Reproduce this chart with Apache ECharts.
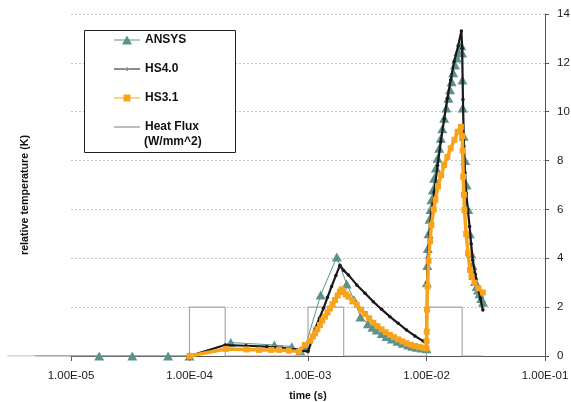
<!DOCTYPE html>
<html><head><meta charset="utf-8">
<script src="https://cdn.jsdelivr.net/npm/echarts/dist/echarts.min.js"></script>
<style>html,body{margin:0;padding:0;background:#fff}#c{width:571px;height:402px}</style>
</head><body><div id="c"></div>
<script>
const xTickLabels = ['1.00E-05','1.00E-04','1.00E-03','1.00E-02','1.00E-01'];
const seriesNames = ['ANSYS','HS4.0','HS3.1','Heat Flux (W/mm^2)'];

// time (s), relative temperature (K)
const ansys = [
  [5e-6,0],[1.73e-5,0],[3.29e-5,0],[6.6e-5,0],[1e-4,0],
  [2.23e-4,0.55],[5.2e-4,0.45],[7.3e-4,0.38],[8.6e-4,0.22],[9.5e-4,0.4],
  [1.28e-3,2.5],[1.75e-3,4.05],[2.12e-3,2.95],[2.45e-3,2.3],[2.77e-3,1.6],
  [3.2e-3,1.32],[3.5e-3,1.18],[3.8e-3,1.06],[4.2e-3,0.92],[4.6e-3,0.8],[5.1e-3,0.7],[5.7e-3,0.6],
  [6.3e-3,0.52],[7.0e-3,0.45],[7.6e-3,0.4],[8.3e-3,0.36],[9.1e-3,0.33],[1e-2,0.3],
  [1.006e-2,3.0],[1.015e-2,3.7],[1.025e-2,4.4],[1.04e-2,5.0],[1.06e-2,5.6],[1.08e-2,6.0],[1.1e-2,6.4],
  [1.13e-2,6.8],[1.16e-2,7.28],[1.2e-2,7.7],[1.24e-2,8.09],[1.28e-2,8.5],[1.32e-2,8.91],[1.36e-2,9.3],
  [1.41e-2,9.73],[1.47e-2,10.15],[1.53e-2,10.55],[1.58e-2,10.9],[1.63e-2,11.23],[1.68e-2,11.6],
  [1.74e-2,11.91],[1.8e-2,12.2],[1.86e-2,12.46],[1.97e-2,12.7],
  [2.0e-2,12.4],[2.01e-2,11.3],[2.02e-2,10.15],[2.06e-2,9.0],[2.12e-2,8.0],[2.18e-2,7.0],[2.25e-2,6.0],
  [2.32e-2,5.0],[2.38e-2,4.2],[2.44e-2,3.7],[2.5e-2,3.3],[2.57e-2,3.05],[2.65e-2,2.85],[2.72e-2,2.7],
  [2.8e-2,2.55],[2.9e-2,2.35],[3.0e-2,2.2]
];
const hs40 = [
  [1e-4,0],[2.0e-4,0.45],[3e-4,0.42],[4.5e-4,0.38],[6e-4,0.33],[8e-4,0.26],[1e-3,0.18],
  [1.07e-3,0.6],[1.15e-3,1.13],[1.25e-3,1.55],[1.35e-3,1.95],[1.46e-3,2.4],[1.58e-3,2.84],[1.72e-3,3.3],[1.86e-3,3.72],
  [2.0e-3,3.5],[2.19e-3,3.32],[2.58e-3,2.91],[3.03e-3,2.57],[3.56e-3,2.22],[4.18e-3,1.91],[4.91e-3,1.61],
  [5.77e-3,1.34],[6.79e-3,1.06],[7.98e-3,0.82],[9.38e-3,0.61],[1e-2,0.52],
  [1.005e-2,1.6],[1.012e-2,3.0],[1.02e-2,4.0],[1.06e-2,5.0],[1.1e-2,5.9],[1.16e-2,6.7],[1.24e-2,7.8],
  [1.32e-2,8.77],[1.41e-2,9.7],[1.5e-2,10.55],[1.6e-2,11.3],[1.71e-2,12.05],[1.85e-2,12.7],[1.97e-2,13.3],
  [2.0e-2,12.6],[2.03e-2,10.5],[2.07e-2,8.6],[2.11e-2,7.5],[2.16e-2,6.66],[2.23e-2,6.0],[2.31e-2,5.3],
  [2.38e-2,4.6],[2.46e-2,3.93],[2.58e-2,3.35],[2.71e-2,2.84],[2.85e-2,2.35],[2.99e-2,1.88]
];
const hs31 = [
  [1e-4,0],[2.03e-4,0.29],[3.03e-4,0.27],[3.86e-4,0.25],[4.9e-4,0.25],[5.7e-4,0.25],[6.9e-4,0.22],[8.4e-4,0.18],
  [9.4e-4,0.45],[1.04e-3,0.62],[1.1e-3,0.8],[1.15e-3,0.93],[1.2e-3,1.1],[1.26e-3,1.27],[1.32e-3,1.45],[1.39e-3,1.61],
  [1.46e-3,1.78],[1.53e-3,1.95],[1.61e-3,2.12],[1.69e-3,2.29],[1.78e-3,2.48],[1.86e-3,2.63],[1.92e-3,2.73],
  [2.0e-3,2.62],[2.09e-3,2.52],[2.19e-3,2.43],[2.38e-3,2.26],[2.58e-3,2.09],[2.8e-3,1.9],[3.03e-3,1.72],
  [3.28e-3,1.54],[3.56e-3,1.36],[3.86e-3,1.22],[4.18e-3,1.09],[4.53e-3,0.97],[4.91e-3,0.86],[5.32e-3,0.77],
  [5.77e-3,0.68],[6.26e-3,0.6],[6.79e-3,0.52],[7.36e-3,0.46],[7.98e-3,0.41],[8.66e-3,0.37],[9.38e-3,0.34],[1e-2,0.31],
  [1.002e-2,0.6],[1.005e-2,1.0],[1.01e-2,1.9],[1.02e-2,2.84],[1.04e-2,3.9],[1.07e-2,4.7],[1.1e-2,5.36],
  [1.15e-2,6.0],[1.19e-2,6.4],[1.25e-2,6.95],[1.33e-2,7.4],[1.41e-2,7.82],[1.5e-2,8.15],[1.6e-2,8.5],
  [1.72e-2,8.85],[1.83e-2,9.18],[1.95e-2,9.38],[2.0e-2,9.0],[2.02e-2,8.4],[2.04e-2,7.34],[2.07e-2,6.6],
  [2.09e-2,5.98],[2.16e-2,5.0],[2.24e-2,4.2],[2.33e-2,3.52],[2.4e-2,3.25],[2.55e-2,3.0],[2.74e-2,2.77],[2.99e-2,2.6]
];
const heatFlux = [
  [2.9e-6,0],[1e-4,0],[1e-4,2],[2e-4,2],[2e-4,0],[1e-3,0],[1e-3,2],[2e-3,2],[2e-3,0],
  [1e-2,0],[1e-2,2],[2e-2,2],[2e-2,0],[3e-2,0]
];

const FONT = '"Liberation Sans", Arial, sans-serif';
const TEAL = '#5d918c', BLACK = '#1a1a1a', ORANGE = '#f8a31c', GRAY = '#a8a8a8';

const chart = echarts.init(document.getElementById('c'), null, {renderer: 'canvas'});
chart.setOption({
  animation: false,
  backgroundColor: '#fff',
  textStyle: {fontFamily: FONT},
  grid: [
    {left: 71, right: 26, top: 14, bottom: 46, outerBoundsMode: 'none', containLabel: false},
    // same scale, extended one decade to the left so early data stays visible left of the frame
    {left: 71 - 118.5, right: 26, top: 14, bottom: 46, outerBoundsMode: 'none', containLabel: false}
  ],
  xAxis: [{
    type: 'log', logBase: 10, min: 1e-5, max: 1e-1, gridIndex: 0,
    name: 'time (s)', nameLocation: 'middle', nameGap: 35,
    nameTextStyle: {fontFamily: FONT, fontWeight: 'bold', fontSize: 10.5, color: '#111'},
    axisLine: {show: true, lineStyle: {color: '#555', width: 1}},
    axisTick: {show: true, length: 5, lineStyle: {color: '#555'}},
    minorTick: {show: false},
    splitLine: {show: false},
    axisLabel: {
      margin: 14, fontSize: 11.5, color: '#1a1a1a', fontFamily: FONT,
      formatter: v => xTickLabels[Math.round(Math.log10(v)) + 5]
    }
  }, {
    type: 'log', logBase: 10, min: 1e-6, max: 1e-1, gridIndex: 1, show: false
  }],
  yAxis: [{
    type: 'value', position: 'right', min: 0, max: 14, interval: 2, gridIndex: 0,
    axisLine: {show: true, lineStyle: {color: '#555', width: 1}},
    axisTick: {show: true, length: 4, lineStyle: {color: '#555'}},
    splitLine: {show: true, lineStyle: {color: '#c4c4c4', type: [2, 2], width: 1}},
    axisLabel: {margin: 12, fontSize: 11.5, color: '#1a1a1a', fontFamily: FONT}
  }, {
    type: 'value', min: 0, max: 14, interval: 2, gridIndex: 1, show: false
  }],
  legend: {
    orient: 'vertical', left: 114, top: 33, padding: 0, z: 10,
    itemWidth: 26, itemHeight: 14, itemGap: 15,
    textStyle: {fontFamily: FONT, fontWeight: 'bold', fontSize: 12, color: '#111', lineHeight: 14},
    itemStyle: {borderWidth: 0},
    formatter: n => n === seriesNames[3] ? 'Heat Flux' : n,
    data: [
      {name: seriesNames[0], icon: 'path://M0,4H26V5H0Z M8,9L13,0L18,9Z', itemStyle: {color: TEAL}},
      {name: seriesNames[1], icon: 'path://M0,4H26V5H0Z M11.5,4.5A1.5,1.5,0,1,0,14.5,4.5A1.5,1.5,0,1,0,11.5,4.5Z M0,0L0,0 M0,9L0,9', itemStyle: {color: BLACK}},
      {name: seriesNames[2], icon: 'path://M0,4H26V5H0Z M9.5,1H16.5V8H9.5Z M0,0L0,0 M0,9L0,9', itemStyle: {color: ORANGE}},
      {name: seriesNames[3], icon: 'path://M0,3.5H26V5.5H0Z M0,0L0,0 M0,9L0,9', itemStyle: {color: '#bdbdbd'}}
    ]
  },
  graphic: [
    {type: 'rect', z: 3, shape: {x: 84.5, y: 30.5, width: 151, height: 122},
     style: {fill: '#fff', stroke: '#222', lineWidth: 1}},
    {type: 'text', z: 10, x: 144, y: 142,
     style: {text: '(W/mm^2)', font: 'bold 12px ' + FONT, fill: '#111', align: 'left', verticalAlign: 'middle'}},
    {type: 'text', z: 10, x: 25.5, y: 195, rotation: Math.PI / 2,
     style: {text: 'relative temperature (K)', font: 'bold 10.7px ' + FONT, fill: '#111', align: 'center', verticalAlign: 'middle'}}
  ],
  series: [
    {
      name: seriesNames[3], type: 'line', data: heatFlux, showSymbol: false, symbol: 'none',
      xAxisIndex: 1, yAxisIndex: 1,
      lineStyle: {color: GRAY, width: 1.2}, itemStyle: {color: GRAY}, z: 1
    },
    {
      name: seriesNames[0], type: 'line', xAxisIndex: 1, yAxisIndex: 1, z: 2,
      data: ansys.map((p, i) => i === 0 ? {value: p, symbol: 'none'} : p),
      symbol: 'triangle', symbolSize: [10, 9], showAllSymbol: true,
      lineStyle: {color: TEAL, width: 1}, itemStyle: {color: TEAL, borderWidth: 0}
    },
    {
      name: seriesNames[1], type: 'line', xAxisIndex: 1, yAxisIndex: 1, z: 3,
      data: hs40, symbol: 'circle', symbolSize: 3.5, showAllSymbol: true,
      lineStyle: {color: BLACK, width: 2.2}, itemStyle: {color: BLACK, borderWidth: 0}
    },
    {
      name: seriesNames[2], type: 'line', xAxisIndex: 1, yAxisIndex: 1, z: 4,
      data: hs31, symbol: 'rect', symbolSize: 6, showAllSymbol: true,
      lineStyle: {color: ORANGE, width: 3.5}, itemStyle: {color: ORANGE, borderWidth: 0}
    }
  ]
});
</script>
</body></html>
